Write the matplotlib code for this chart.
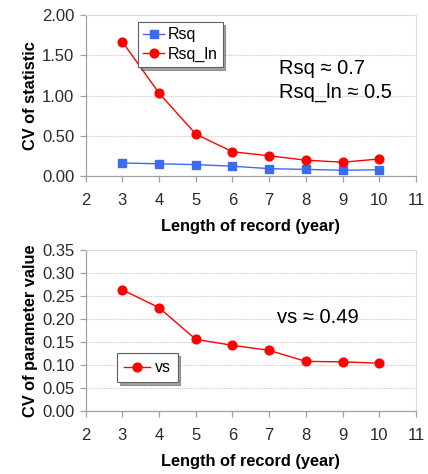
import matplotlib
matplotlib.use("Agg")
import matplotlib.pyplot as plt
import numpy as np

plt.rcParams["font.family"] = ["Liberation Sans", "DejaVu Sans"]

# ── Data ─────────────────────────────────────────────────────────────────────
years = [3, 4, 5, 6, 7, 8, 9, 10]
rsq = [0.16, 0.15, 0.14, 0.12, 0.09, 0.08, 0.07, 0.075]
rsq_ln = [1.67, 1.03, 0.52, 0.30, 0.25, 0.195, 0.17, 0.21]
vs = [0.264, 0.225, 0.156, 0.143, 0.132, 0.108, 0.107, 0.104]

x_ticks = list(range(2, 12))
top_yticks = [0.0, 0.5, 1.0, 1.5, 2.0]
bot_yticks = [0.0, 0.05, 0.10, 0.15, 0.20, 0.25, 0.30, 0.35]

RED = "#ff0000"
BLUE = "#3a6cf0"
SPINE = "#a0a0a0"


def style_axes(ax, yticks, fmt):
    ax.set_xlim(2, 11)
    ax.set_ylim(yticks[0], yticks[-1])
    ax.set_xticks(x_ticks)
    ax.set_yticks(yticks)
    ax.set_yticklabels([fmt.format(v) for v in yticks])
    for v in yticks[1:-1]:
        ax.axhline(v, color="#c8c8c8", linewidth=0.8, linestyle=(0, (1, 1)), zorder=0)
    for s in ["top", "right"]:
        ax.spines[s].set_color("#dcdcdc")
        ax.spines[s].set_linewidth(0.8)
    for s in ["left", "bottom"]:
        ax.spines[s].set_color(SPINE)
        ax.spines[s].set_linewidth(0.9)
    ax.tick_params(axis="both", direction="out", length=4, width=0.9,
                   color=SPINE, labelsize=12, labelcolor="#2a2a2a")
    ax.tick_params(axis="x", pad=8)
    ax.tick_params(axis="y", pad=4)
    ax.set_xlabel("Length of record (year)", fontsize=11.8, fontweight="bold", labelpad=8)


fig = plt.figure(figsize=(4.28, 4.74), dpi=100)
ax1 = fig.add_axes([0.2, 0.629, 0.772, 0.339])
ax2 = fig.add_axes([0.2, 0.133, 0.772, 0.339])

# ── Top panel ────────────────────────────────────────────────────────────────
ax1.plot(years, rsq, color=BLUE, marker="s", markersize=5.2, linewidth=1,
         label="Rsq", clip_on=False, zorder=3)
ax1.plot(years, rsq_ln, color=RED, marker="o", markersize=6.3, linewidth=1,
         label="Rsq_ln", clip_on=False, zorder=4)
style_axes(ax1, top_yticks, "{:.2f}")
ax1.set_ylabel("CV of statistic", fontsize=11.8, fontweight="bold", labelpad=3)
leg1 = ax1.legend(loc="upper left", bbox_to_anchor=(0.16, 0.955), fontsize=11.5,
                  fancybox=False, shadow=True, edgecolor="#606060",
                  handlelength=1.3, handletextpad=0.25, borderpad=0.3,
                  labelspacing=0.3, borderaxespad=0)
leg1.get_frame().set_linewidth(0.8)
ax1.text(0.585, 0.595, "Rsq \u2248 0.7\nRsq_ln \u2248 0.5", transform=ax1.transAxes,
         fontsize=14.5, ha="left", va="center", linespacing=1.3)

# ── Bottom panel ─────────────────────────────────────────────────────────────
ax2.plot(years, vs, color=RED, marker="o", markersize=6.3, linewidth=1,
         label="vs", clip_on=False, zorder=4)
style_axes(ax2, bot_yticks, "{:.2f}")
ax2.set_ylabel("CV of parameter value", fontsize=11.8, fontweight="bold", labelpad=3)
leg2 = ax2.legend(loc="upper left", bbox_to_anchor=(0.095, 0.36), fontsize=11.5,
                  fancybox=False, shadow=True, edgecolor="#606060",
                  handlelength=1.6, handletextpad=0.3, borderpad=0.45,
                  borderaxespad=0)
leg2.get_frame().set_linewidth(0.8)
ax2.text(0.58, 0.58, "vs \u2248 0.49", transform=ax2.transAxes,
         fontsize=14.5, ha="left", va="center")

fig.savefig("out.png", dpi=100)
